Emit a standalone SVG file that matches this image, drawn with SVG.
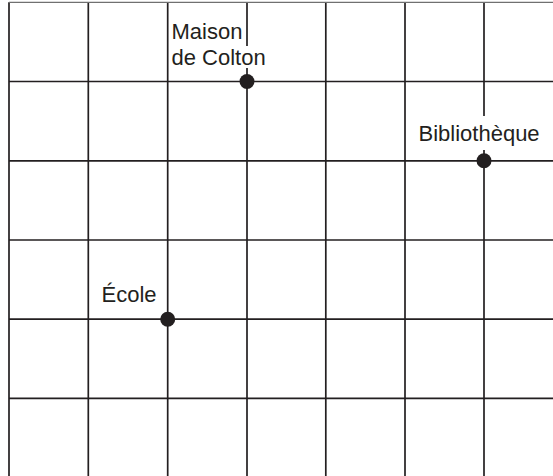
<svg xmlns="http://www.w3.org/2000/svg" width="553" height="476" viewBox="0 0 553 476">
<style>
.g{stroke:#231f20;stroke-width:1.7;fill:none}
.top{stroke:#707070;stroke-width:1.4;fill:none}
.lbl{font-family:"Liberation Sans",Arial,sans-serif;font-size:22px;fill:#231f20}
.dot{fill:#231f20}
.bg{fill:#ffffff}
</style>
<rect width="553" height="476" fill="#ffffff"/>
<g id="grid">
<line class="g" x1="9" y1="2.3" x2="9" y2="476"/>
<line class="g" x1="88.3" y1="2.3" x2="88.3" y2="476"/>
<line class="g" x1="167.7" y1="2.3" x2="167.7" y2="476"/>
<line class="g" x1="247" y1="2.3" x2="247" y2="476"/>
<line class="g" x1="325.8" y1="2.3" x2="325.8" y2="476"/>
<line class="g" x1="405" y1="2.3" x2="405" y2="476"/>
<line class="g" x1="484" y1="2.3" x2="484" y2="476"/>
<line class="top" x1="9" y1="2.4" x2="553" y2="2.4"/>
<line class="g" x1="9" y1="81.5" x2="553" y2="81.5"/>
<line class="g" x1="9" y1="160.8" x2="553" y2="160.8"/>
<line class="g" x1="9" y1="240" x2="553" y2="240"/>
<line class="g" x1="9" y1="319.2" x2="553" y2="319.2"/>
<line class="g" x1="9" y1="398.4" x2="553" y2="398.4"/>
</g>
<g id="maison">
<rect class="bg" x="170" y="46" width="96" height="22"/>
<text class="lbl" x="171.5" y="38.5">Maison</text>
<text class="lbl" x="171.5" y="64.5">de Colton</text>
<circle class="dot" cx="247" cy="81.5" r="7.5"/>
</g>
<g id="bibliotheque">
<rect class="bg" x="416" y="116" width="132" height="34"/>
<text class="lbl" x="418.5" y="141">Bibliothèque</text>
<circle class="dot" cx="484" cy="160.8" r="7.5"/>
</g>
<g id="ecole">
<text class="lbl" x="101.5" y="301.5">École</text>
<circle class="dot" cx="167.7" cy="319.2" r="7.5"/>
</g>
</svg>
